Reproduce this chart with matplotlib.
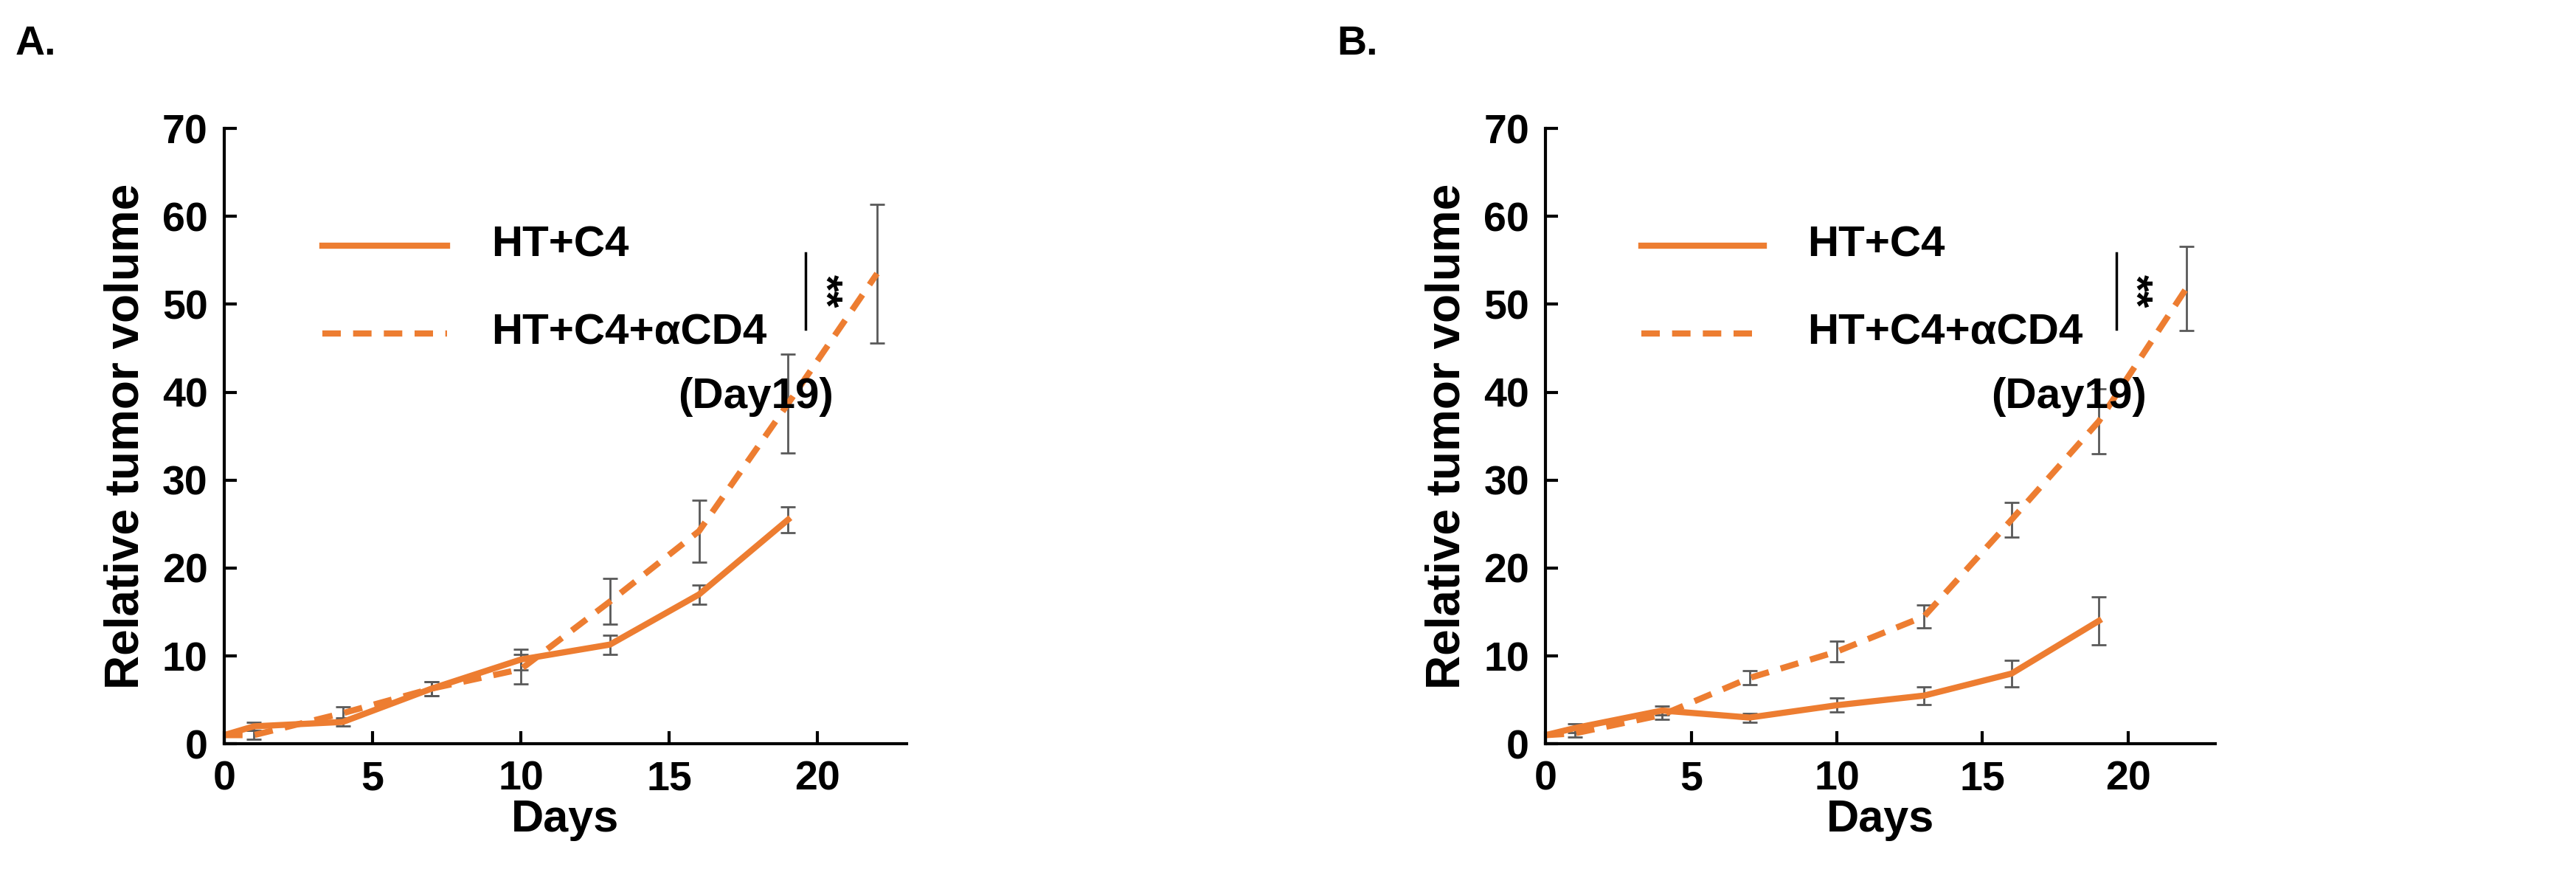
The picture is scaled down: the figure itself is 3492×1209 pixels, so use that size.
import matplotlib.pyplot as plt
import numpy as np

plt.rcParams['font.family'] = ['Liberation Sans', 'DejaVu Sans']
plt.rcParams['font.weight'] = 'bold'

days_solid = [0, 1, 4, 7, 10, 13, 16, 19]
days_dash = [0, 1, 4, 7, 10, 13, 16, 19, 22]

a_solid = [1, 2, 2.5, 6.3, 9.6, 11.3, 17, 25.5]
a_solid_err = [0, 0.5, 0.5, 0.8, 1.2, 1.1, 1.1, 1.5]
a_dash = [1, 1, 3.5, 6.3, 8.5, 16.2, 24.2, 38.7, 53.5]
a_dash_err = [0, 0.5, 0.7, 0.8, 1.7, 2.6, 3.5, 5.6, 7.9]

b_solid = [1, 1.8, 3.8, 3.0, 4.4, 5.5, 8.0, 14.0]
b_solid_err = [0, 0.5, 0.5, 0.5, 0.8, 1.0, 1.5, 2.7]
b_dash = [1, 1.2, 3.3, 7.5, 10.5, 14.5, 25.5, 36.7, 51.8]
b_dash_err = [0, 0.4, 0.5, 0.8, 1.2, 1.3, 2.0, 3.7, 4.8]

orange = '#ED7D31'
grey = '#595959'

fig = plt.figure(figsize=(34.92, 12.09), dpi=100)
panels = [
    ('A.', [0.087, 0.166, 0.265, 0.69], a_solid, a_solid_err, a_dash, a_dash_err),
    ('B.', [0.600, 0.166, 0.260, 0.69], b_solid, b_solid_err, b_dash, b_dash_err),
]

for label, rect, s, se, d, de in panels:
    ax = fig.add_axes(rect)
    ax.errorbar(days_solid, s, yerr=se, color=orange, lw=6, ecolor=grey,
                elinewidth=2, capsize=7, capthick=2)
    ax.errorbar(days_dash, d, yerr=de, color=orange, lw=6, ls=(0, (3, 2)),
                ecolor=grey, elinewidth=2, capsize=7, capthick=2)
    ax.set_xlim(0, 23)
    ax.set_ylim(0, 70)
    ax.set_xticks([0, 5, 10, 15, 20])
    ax.set_yticks(range(0, 71, 10))
    ax.spines['top'].set_visible(False)
    ax.spines['right'].set_visible(False)
    for sp in ['left', 'bottom']:
        ax.spines[sp].set_linewidth(3)
    ax.tick_params(labelsize=40, width=3, length=12, direction='in', pad=16)
    ax.set_xlabel('Days', fontsize=44, fontweight='bold', labelpad=0)
    ax.set_ylabel('Relative tumor volume', fontsize=46, fontweight='bold', labelpad=14)

    # legend drawn by hand
    ax.plot([3.3, 7.5], [56.7, 56.7], color=orange, lw=6, clip_on=False)
    ax.plot([3.3, 7.5], [46.7, 46.7], color=orange, lw=6, ls=(0, (3, 2)), clip_on=False)
    ax.text(9.0, 56.7, 'HT+C4', fontsize=42, va='center')
    ax.text(9.0, 46.7, 'HT+C4+\u03b1CD4', fontsize=42, va='center')
    ax.text(15.3, 39.5, '(Day19)', fontsize=42, va='center')
    ax.plot([19.6, 19.6], [47.2, 55.8], color='black', lw=2.5)
    ax.text(20.2, 51.5, '**', fontsize=42, rotation=-90, va='center', ha='center')

    fig.text(rect[0] - 0.081, 0.95, label, fontsize=40, va='center')

fig.savefig('out.png')
